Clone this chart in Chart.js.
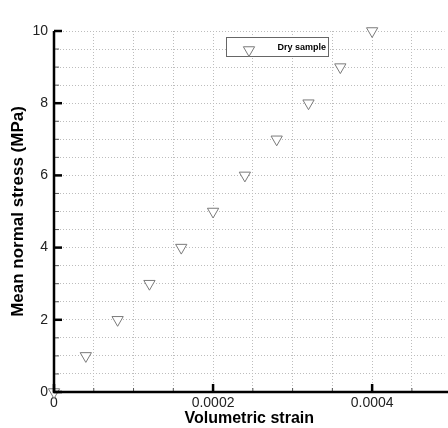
<!DOCTYPE html>
<html>
<head>
<meta charset="utf-8">
<script src="https://cdn.jsdelivr.net/npm/chart.js@4"></script>
<style>
  html, body { margin: 0; padding: 0; background: #fff; overflow: hidden; }
  #wrap { width: 452px; height: 428px; }
</style>
</head>
<body>
<div id="wrap"><canvas id="chart" width="452" height="428"></canvas></div>
<script>
// Dry sample: volumetric strain vs mean normal stress
const strain = [0, 0.00004, 0.00008, 0.00012, 0.00016, 0.0002, 0.00024, 0.00028, 0.00032, 0.00036, 0.0004];
const stress = [0, 1, 2, 3, 4, 5, 6, 7, 8, 9, 10];
const seriesLabel = 'Dry sample';
const xTickLabels = ['0', '0.0002', '0.0004'];
const yTickLabels = ['0', '2', '4', '6', '8', '10'];
const xMax = 0.000491; // axis runs off the right edge of the picture

const FONT = 'Liberation Sans, Arial, sans-serif';
const MARKER = '#7a7a7a';

// axis lines + inward tick marks (major / minor)
const axisPlugin = {
  id: 'axisTicks',
  afterDatasetsDraw(chart) {
    const { ctx, chartArea: a, scales: { x, y } } = chart;
    ctx.save();
    ctx.lineCap = 'butt';
    y.ticks.forEach((t, i) => {
      const py = y.getPixelForValue(t.value);
      const major = i % 4 === 0;
      ctx.lineWidth = major ? 2.5 : 1;
      ctx.strokeStyle = major ? '#000' : '#555';
      ctx.beginPath();
      ctx.moveTo(a.left, py);
      ctx.lineTo(a.left + (major ? 8 : 5), py);
      ctx.stroke();
    });
    x.ticks.forEach((t, i) => {
      const px = x.getPixelForValue(t.value);
      const major = i % 4 === 0;
      ctx.lineWidth = major ? 2.5 : 1;
      ctx.strokeStyle = major ? '#000' : '#555';
      ctx.beginPath();
      ctx.moveTo(px, a.bottom);
      ctx.lineTo(px, a.bottom - (major ? 8 : 4));
      ctx.stroke();
    });
    ctx.lineWidth = 2.5;
    ctx.strokeStyle = '#000';
    ctx.beginPath();
    ctx.moveTo(a.left, a.top);
    ctx.lineTo(a.left, a.bottom);
    ctx.lineTo(a.right + 4, a.bottom);
    ctx.stroke();
    ctx.restore();
  }
};

// boxed legend inside the plot
const legendBox = {
  id: 'legendBox',
  afterDraw(chart) {
    const { ctx } = chart;
    const ds = chart.data.datasets[0];
    ctx.save();
    ctx.fillStyle = '#fff';
    ctx.fillRect(226, 37, 102, 19);
    ctx.strokeStyle = '#666';
    ctx.lineWidth = 1;
    ctx.strokeRect(226.5, 37.5, 102, 19);
    ctx.strokeStyle = MARKER;
    ctx.fillStyle = '#fff';
    Chart.helpers.drawPoint(ctx, { pointStyle: 'triangle', radius: 6.5, rotation: 180, borderWidth: 1 }, 249, 50);
    ctx.font = 'bold 9px ' + FONT;
    ctx.fillStyle = '#000';
    ctx.textAlign = 'right';
    ctx.textBaseline = 'middle';
    ctx.fillText(ds.label, 326, 48);
    ctx.restore();
  }
};

new Chart(document.getElementById('chart'), {
  type: 'scatter',
  data: {
    datasets: [{
      label: seriesLabel,
      data: strain.map((v, i) => ({ x: v, y: stress[i] })),
      pointStyle: 'triangle',
      rotation: 180,
      pointRadius: 6.5,
      pointHoverRadius: 6.5,
      borderColor: MARKER,
      backgroundColor: '#fff',
      borderWidth: 1,
      clip: false,
    }]
  },
  options: {
    responsive: false,
    animation: false,
    events: [],
    layout: { padding: { top: 31, left: 0, right: 0, bottom: 0 } },
    plugins: { legend: { display: false }, tooltip: { enabled: false } },
    scales: {
      x: {
        type: 'linear',
        min: 0,
        max: xMax,
        afterFit: s => { s.height = 36; s.paddingLeft = 0; s.paddingRight = 0; },
        afterBuildTicks: s => { s.ticks = Array.from({ length: 10 }, (_, i) => ({ value: i * 0.00005 })); },
        ticks: {
          autoSkip: false,
          maxRotation: 0,
          padding: 3,
          color: '#222',
          font: { family: FONT, size: 14 },
          callback: (v, i) => (i % 4 === 0 ? xTickLabels[i / 4] : ''),
        },
        grid: { color: '#bdbdbd', lineWidth: 1, drawTicks: false },
        border: { display: false, dash: [1, 2] },
        title: {
          display: true,
          text: 'Volumetric strain',
          color: '#000',
          font: { family: FONT, size: 16, weight: 'bold' },
          padding: { top: 0, bottom: 0 },
        },
      },
      y: {
        type: 'linear',
        min: 0,
        max: 10,
        afterFit: s => { s.width = 54; s.paddingTop = 0; s.paddingBottom = 0; },
        afterBuildTicks: s => { s.ticks = Array.from({ length: 21 }, (_, i) => ({ value: i * 0.5 })); },
        ticks: {
          autoSkip: false,
          padding: 6,
          color: '#222',
          font: { family: FONT, size: 14 },
          callback: (v, i) => (i % 4 === 0 ? yTickLabels[i / 4] : ''),
        },
        grid: { color: '#bdbdbd', lineWidth: 1, drawTicks: false },
        border: { display: false, dash: [1, 2] },
        title: {
          display: true,
          text: 'Mean normal stress (MPa)',
          color: '#000',
          font: { family: FONT, size: 17, weight: 'bold' },
          padding: { top: 8, bottom: 0 },
        },
      }
    }
  },
  plugins: [axisPlugin, legendBox]
});
</script>
</body>
</html>
